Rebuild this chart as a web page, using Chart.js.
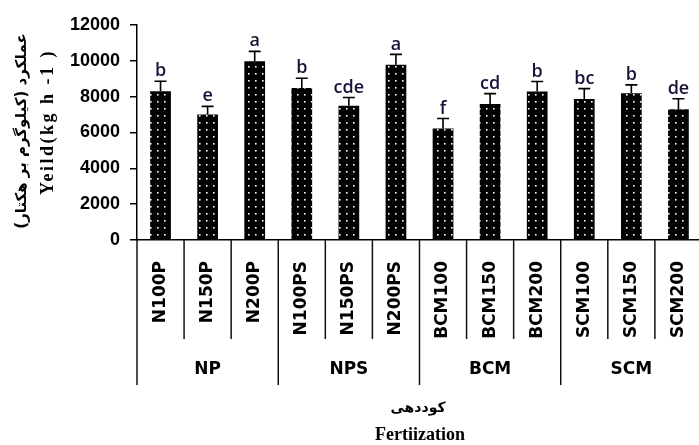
<!DOCTYPE html>
<html>
<head>
<meta charset="utf-8">
<script src="https://cdn.jsdelivr.net/npm/chart.js@4/dist/chart.umd.min.js"></script>
<style>
  html, body { margin: 0; padding: 0; background: #fff; overflow: hidden; }
  #wrap { width: 712px; height: 445px; }
</style>
</head>
<body>
<div id="wrap"><canvas id="chart"></canvas></div>
<script>
// treatments on the x axis, with their fertilizer group
const categories = ["N100P", "N150P", "N200P", "N100PS", "N150PS", "N200PS",
                    "BCM100", "BCM150", "BCM200", "SCM100", "SCM150", "SCM200"];
const groups = ["NP", "NPS", "BCM", "SCM"];
// yield (kg/ha)
const yieldMeans = [8300, 7000, 9970, 8490, 7500, 9780, 6220, 7590, 8290, 7870, 8190, 7300];
// upper error bar length
const yieldErr = [560, 460, 560, 540, 450, 580, 560, 580, 560, 580, 470, 580];
// Duncan letters above each bar
const letters = ["b", "e", "a", "b", "cde", "a", "f", "cd", "b", "bc", "b", "de"];
const yTicks = [0, 2000, 4000, 6000, 8000, 10000, 12000];

function dotPattern() {
    // black fill with small white dots
    let c = document.createElement("canvas");
    c.width = 7;
    c.height = 7;
    let g = c.getContext("2d");
    g.fillStyle = "#000";
    g.fillRect(0, 0, 7, 7);
    g.fillStyle = "#fff";
    g.fillRect(3, 3, 1.6, 1.6);
    return g.createPattern(c, "repeat");
}

const extras = {
    id: "extras",
    afterDatasetsDraw(chart) {
        let ctx = chart.ctx;
        let x = chart.scales.x, y = chart.scales.y;
        ctx.save();
        ctx.strokeStyle = "#000";
        ctx.lineWidth = 1.6;
        yieldMeans.forEach((v, i) => {
            let px = x.getPixelForValue(i);
            let top = y.getPixelForValue(v);
            let cap = y.getPixelForValue(v + yieldErr[i]);
            ctx.beginPath();
            ctx.moveTo(px, top);
            ctx.lineTo(px, cap);
            ctx.moveTo(px - 6, cap);
            ctx.lineTo(px + 6, cap);
            ctx.stroke();
            // letter
            ctx.fillStyle = "#15153a";
            ctx.font = "600 18px 'Open Sans'";
            ctx.textAlign = "center";
            ctx.textBaseline = "bottom";
            ctx.fillText(letters[i], px, cap - 1);
        });
        ctx.restore();
    },
    afterDraw(chart) {
        let ctx = chart.ctx;
        let x = chart.scales.x;
        let area = chart.chartArea;
        let half = (x.getPixelForValue(1) - x.getPixelForValue(0)) / 2;
        ctx.save();
        ctx.strokeStyle = "#111";
        ctx.lineWidth = 1.5;
        // separators below the axis
        for (let i = 0; i <= categories.length; i++) {
            let px = i === 0 ? area.left : x.getPixelForValue(i - 1) + half;
            let bottom = i % 3 === 0 ? 385 : 339;
            ctx.beginPath();
            ctx.moveTo(px, area.bottom);
            ctx.lineTo(px, bottom);
            ctx.stroke();
        }
        // group names
        ctx.fillStyle = "#000";
        ctx.font = "bold 17px 'DejaVu Sans'";
        ctx.textAlign = "center";
        ctx.textBaseline = "middle";
        groups.forEach((g, k) => {
            let px = x.getPixelForValue(k * 3 + 1);
            ctx.fillText(g, px, 370);
        });
        // x title
        ctx.direction = "rtl";
        ctx.font = "bold 14px 'DejaVu Sans'";
        ctx.fillText("کوددهی", 418, 408);
        ctx.direction = "ltr";
        ctx.font = "bold 18px 'Liberation Serif'";
        ctx.textBaseline = "alphabetic";
        ctx.fillText("Fertiization", 420, 440);
        // y title, two lines
        ctx.save();
        ctx.translate(22, 131);
        ctx.rotate(-Math.PI / 2);
        ctx.direction = "rtl";
        ctx.textBaseline = "middle";
        ctx.font = "bold 15px 'DejaVu Sans'";
        ctx.fillText("عملکرد (کیلوگرم بر هکتار)", 0, 0);
        ctx.restore();
        ctx.save();
        ctx.translate(48, 122);
        ctx.rotate(-Math.PI / 2);
        ctx.textBaseline = "middle";
        ctx.font = "bold 18px 'Liberation Serif'";
        ctx.letterSpacing = "2.5px";
        ctx.fillText("Yeild(kg h -1 )", 0, 0);
        ctx.restore();
        ctx.restore();
    }
};

function main() {
    let ctx = document.getElementById("chart");
    new Chart(ctx, {
        type: "bar",
        data: {
            labels: categories,
            datasets: [
                {
                    data: yieldMeans,
                    backgroundColor: dotPattern(),
                    borderColor: "#000",
                    borderWidth: 0,
                    barPercentage: 0.44,
                    categoryPercentage: 1
                }
            ]
        },
        options: {
            responsive: true,
            maintainAspectRatio: false,
            animation: false,
            layout: { padding: { top: 25, right: 4, left: 0, bottom: 0 } },
            plugins: {
                legend: { display: false },
                tooltip: { enabled: false }
            },
            scales: {
                x: {
                    grid: { display: false },
                    border: { display: true, color: "#000", width: 1.5 },
                    afterFit: s => { s.height = 205; },
                    ticks: {
                        autoSkip: false,
                        minRotation: 90,
                        maxRotation: 90,
                        padding: 13,
                        color: "#000",
                        font: { family: "DejaVu Sans", size: 17, weight: "bold" }
                    }
                },
                y: {
                    min: 0,
                    max: 12000,
                    afterFit: s => { s.width = 137; },
                    afterBuildTicks: s => { s.ticks = yTicks.map(v => ({ value: v })); },
                    grid: { drawOnChartArea: false, drawTicks: true, tickLength: 7, color: "#000", lineWidth: 1.5 },
                    border: { display: true, color: "#000", width: 1.5 },
                    ticks: {
                        padding: 10,
                        color: "#000",
                        callback: v => String(v),
                        font: { family: "Liberation Sans", size: 18, weight: "bold" }
                    }
                }
            }
        },
        plugins: [extras]
    });
}

document.addEventListener("DOMContentLoaded", main);
</script>
</body>
</html>
